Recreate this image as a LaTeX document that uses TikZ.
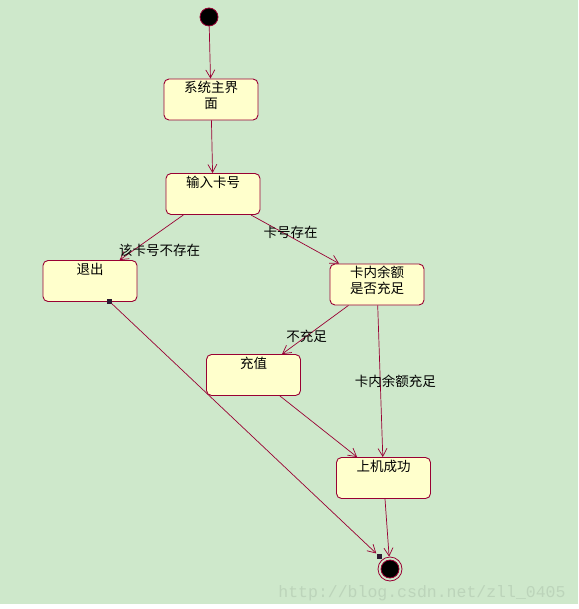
\documentclass[tikz,border=0pt]{standalone}
\usepackage{fontspec}
\newfontfamily\cjk{Noto Sans CJK SC}
\newfontfamily\wmfont{Liberation Mono}
\usetikzlibrary{arrows.meta}
\definecolor{bgcol}{RGB}{206,232,203}
\definecolor{edgecol}{RGB}{153,0,51}
\definecolor{statefill}{RGB}{255,255,204}
\definecolor{portcol}{RGB}{45,25,50}
\definecolor{wmcol}{RGB}{188,212,186}
\begin{document}
\begin{tikzpicture}[x=1pt, y=-1pt,
  state/.style={draw=edgecol, fill=statefill, rounded corners=5pt, line width=0.9pt, minimum width=94pt, minimum height=41pt, inner sep=0pt},
  title/.style={anchor=north, align=center, font=\cjk\fontsize{13.5}{15.5}\selectfont, inner sep=0pt, yshift=-2.5pt},
  lbl/.style={font=\cjk\fontsize{13.5}{15.5}\selectfont, inner sep=0pt},
  startdot/.style={circle, draw=edgecol, fill=black, line width=0.8pt, minimum size=18pt, inner sep=0pt},
  endring/.style={circle, draw=edgecol, line width=0.8pt, minimum size=24pt, inner sep=0pt},
  port/.style={fill=portcol, minimum size=5pt, inner sep=0pt},
  arrow/.style={-{Straight Barb[length=8pt, width=9pt]}, draw=edgecol, line width=0.7pt}
]
\useasboundingbox (0,0) rectangle (578,609);
\fill[bgcol] (0,0) rectangle (578,604);
\fill[white] (0,604) rectangle (578,609);

\node[startdot] (init) at (209,17) {};
\node[state, label={[title]north:系统主界\\面}] (menu) at (211,99.5) {};
\node[state, label={[title]north:输入卡号}] (input) at (213,194) {};
\node[state, label={[title]north:退出}] (quit) at (90,281) {};
\node[state, label={[title]north:卡内余额\\是否充足}] (balance) at (377,284.5) {};
\node[state, label={[title]north:充值}] (recharge) at (253.5,375) {};
\node[state, label={[title]north:上机成功}] (online) at (383.5,478) {};
\node[endring] (final) at (390,569) {};
\node[startdot] (finaldot) at (final) {};
\node[port] (quitport) at (109,301) {};
\node[port] (finalport) at (379,556) {};

\draw[arrow] (init) -- (menu);
\draw[arrow] (menu) -- (input);
\draw[arrow] (input) -- node[lbl, pos=0.78, xshift=26pt]{该卡号不存在} (quit);
\draw[arrow] (input) -- node[lbl, pos=0.45, yshift=4pt]{卡号存在} (balance);
\draw[arrow] (balance) -- node[lbl, pos=0.63]{不充足} (recharge);
\draw[arrow] (balance) -- node[lbl, pos=0.5, xshift=15pt]{卡内余额充足} (online);
\draw[arrow] (recharge) -- (online);
\draw[arrow] (online) -- (final);
\draw[arrow] (quitport) -- (finalport);

\node[font=\wmfont\fontsize{16.5}{18}\selectfont, text=wmcol, inner sep=0pt] (mark) at (422,593) {http://blog.csdn.net/zll\_0405};
\end{tikzpicture}
\end{document}
